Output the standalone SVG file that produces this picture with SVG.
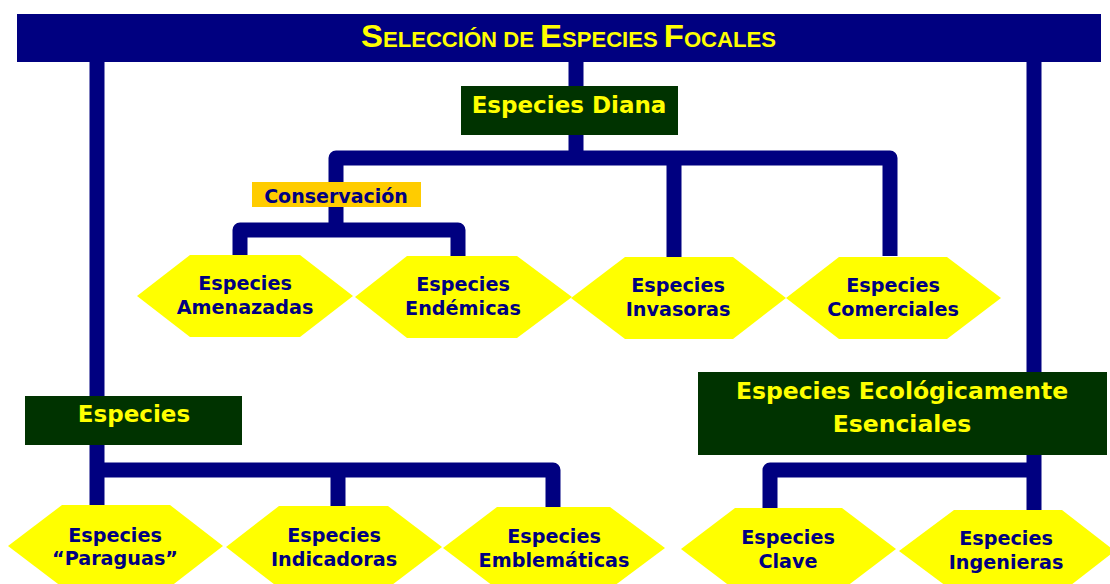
<svg xmlns="http://www.w3.org/2000/svg" width="1110" height="584" viewBox="0 0 1110 584">
<style>
.conn{fill:none;stroke:#000080;stroke-width:15;stroke-linejoin:round;stroke-linecap:butt}
.hex{fill:#FFFF00;stroke:none}
.hl{font-family:"DejaVu Sans",sans-serif;font-weight:bold;font-size:19.2px;fill:#000080;text-anchor:middle}
.box{fill:#003300}
.bt{font-family:"DejaVu Sans",sans-serif;font-weight:bold;fill:#FFFF00;text-anchor:middle}
</style>
<rect width="1110" height="584" fill="#FFFFFF"/>
<g id="connectors">
<path class="conn" d="M97,62 V506"/>
<path class="conn" d="M97,470 H553 V508"/>
<path class="conn" d="M338,470 V507"/>
<path class="conn" d="M576,60 V158"/>
<path class="conn" d="M336,231 V158 H890 V256"/>
<path class="conn" d="M674,158 V257"/>
<path class="conn" d="M240,256 V230 H458 V257"/>
<path class="conn" d="M1034,60 V511"/>
<path class="conn" d="M770,509 V470 H1034"/>
</g>
<g id="title">
<rect x="17" y="14" width="1084" height="48" fill="#000080"/>
<text x="361" y="46.5" textLength="415" lengthAdjust="spacingAndGlyphs" font-family="'Liberation Sans',sans-serif" font-weight="bold" fill="#FFFF00"><tspan font-size="32">S</tspan><tspan font-size="21.5">ELECCIÓN DE </tspan><tspan font-size="32">E</tspan><tspan font-size="21.5">SPECIES </tspan><tspan font-size="32">F</tspan><tspan font-size="21.5">OCALES</tspan></text>
</g>
<g id="diana">
<rect class="box" x="461" y="86" width="217" height="49"/>
<text class="bt" x="569" y="113" font-size="23">Especies Diana</text>
</g>
<g id="conservacion">
<rect x="252" y="182" width="169" height="25" fill="#FFCC00"/>
<text x="336" y="203" font-family="'DejaVu Sans',sans-serif" font-weight="bold" font-size="19" fill="#000080" text-anchor="middle">Conservación</text>
</g>
<g id="amenazadas">
<polygon class="hex" points="137,296 190,255 300,255 353,296 300,337 190,337"/>
<text class="hl" x="245" y="290">Especies</text>
<text class="hl" x="245" y="314">Amenazadas</text>
</g>
<g id="endemicas">
<polygon class="hex" points="355,297 407,256 517,256 572,297 517,338 407,338"/>
<text class="hl" x="463" y="291">Especies</text>
<text class="hl" x="463" y="315">Endémicas</text>
</g>
<g id="invasoras">
<polygon class="hex" points="571,298 625,257 733,257 786,298 733,339 625,339"/>
<text class="hl" x="678" y="292">Especies</text>
<text class="hl" x="678" y="316">Invasoras</text>
</g>
<g id="comerciales">
<polygon class="hex" points="786,298 839,257 947,257 1001,298 947,339 839,339"/>
<text class="hl" x="893" y="292">Especies</text>
<text class="hl" x="893" y="316">Comerciales</text>
</g>
<g id="especies">
<rect class="box" x="25" y="396" width="217" height="49"/>
<text class="bt" x="134" y="422" font-size="23">Especies</text>
</g>
<g id="ecologicas">
<rect class="box" x="698" y="372" width="409" height="83"/>
<text class="bt" x="902" y="399" font-size="23.5">Especies Ecológicamente</text>
<text class="bt" x="902" y="432" font-size="23.5">Esenciales</text>
</g>
<g id="paraguas">
<polygon class="hex" points="8,546 62,505 170,505 223,546 170,587 62,587"/>
<text class="hl" x="115" y="542">Especies</text>
<text class="hl" x="115" y="565">“Paraguas”</text>
</g>
<g id="indicadoras">
<polygon class="hex" points="226,547 279,506 388,506 442,547 388,588 279,588"/>
<text class="hl" x="334" y="542">Especies</text>
<text class="hl" x="334" y="566">Indicadoras</text>
</g>
<g id="emblematicas">
<polygon class="hex" points="443,548 497,507 610,507 665,548 610,589 497,589"/>
<text class="hl" x="554" y="543">Especies</text>
<text class="hl" x="554" y="567">Emblemáticas</text>
</g>
<g id="clave">
<polygon class="hex" points="681,549 735,508 842,508 896,549 842,590 735,590"/>
<text class="hl" x="788" y="544">Especies</text>
<text class="hl" x="788" y="568">Clave</text>
</g>
<g id="ingenieras">
<polygon class="hex" points="899,551 954,510 1062,510 1115,551 1062,592 954,592"/>
<text class="hl" x="1006" y="545">Especies</text>
<text class="hl" x="1006" y="569">Ingenieras</text>
</g>
</svg>
